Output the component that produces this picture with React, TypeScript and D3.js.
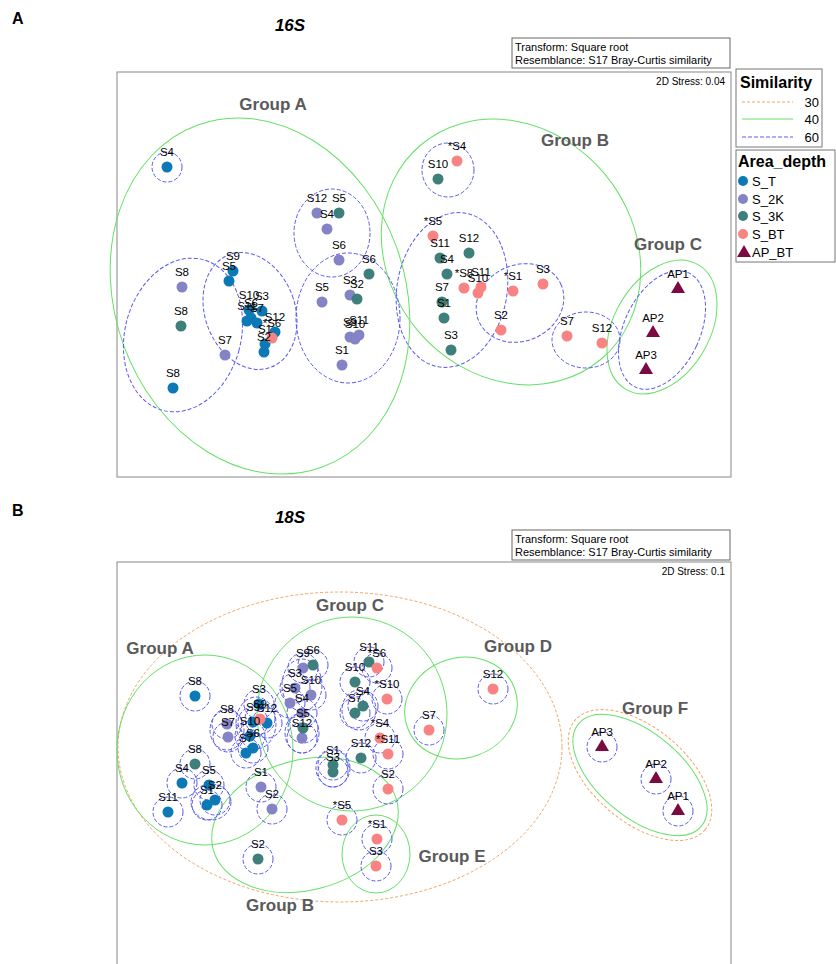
import React from "react";
import * as d3 from "d3";

// ---------- data ----------
type P = [string, number, number]; // label, MDS1, MDS2
type E = [number, number, number, number, number]; // cx, cy, rx, ry, angle(deg)

const areaDepth = ["S_T", "S_2K", "S_3K", "S_BT", "AP_BT"];
const areaColors = ["#0b79b5", "#8383c6", "#3f7f7b", "#f98282", "#7b0a42"];
const simLevels = ["30", "40", "60"];

// Panel A (16S)
const a_ST: P[] = [
  ["S4", -2.57, 1.08], ["S9", -1.91, 0.04], ["S5", -1.95, -0.06], ["S8", -2.51, -1.13],
  ["S10", -1.75, -0.35], ["S3", -1.62, -0.36], ["S6", -1.73, -0.43], ["S11", -1.77, -0.46],
  ["S7", -1.67, -0.48], ["S12", -1.49, -0.57], ["S1", -1.59, -0.69], ["S2", -1.6, -0.77],
];
const a_2K: P[] = [
  ["S8", -2.42, -0.12], ["S7", -1.99, -0.8], ["S12", -1.07, 0.62], ["S4", -0.97, 0.46],
  ["S6", -0.85, 0.15], ["S5", -1.02, -0.27], ["S3", -0.74, -0.2], ["S9", -0.74, -0.62],
  ["S10", -0.69, -0.64], ["S11", -0.65, -0.6], ["S1", -0.82, -0.9],
];
const a_3K: P[] = [
  ["S8", -2.43, -0.51], ["S5", -0.85, 0.62], ["S6", -0.55, 0.01], ["S2", -0.67, -0.24],
  ["S10", 0.14, 0.96], ["S12", 0.45, 0.22], ["S11", 0.16, 0.17], ["S4", 0.23, 0.01],
  ["S7", 0.18, -0.27], ["S1", 0.2, -0.43], ["S3", 0.27, -0.75],
];
const a_BT: P[] = [
  ["*S6", -1.52, -0.63], ["*S4", 0.33, 1.14], ["*S5", 0.09, 0.39], ["*S8", 0.4, -0.13],
  ["S11", 0.57, -0.12], ["S10", 0.54, -0.18], ["*S1", 0.89, -0.16], ["S3", 1.19, -0.09],
  ["S2", 0.77, -0.55], ["S7", 1.43, -0.61], ["S12", 1.78, -0.68],
];
const a_AP: P[] = [["AP1", 2.54, -0.14], ["AP2", 2.29, -0.58], ["AP3", 2.22, -0.95]];

const a_sim60: E[] = [
  [-2.57, 1.08, 0.15, 0.15, 0], [-2.41, -0.6, 0.58, 0.78, 15], [-1.74, -0.36, 0.45, 0.6, -20],
  [-0.92, 0.42, 0.38, 0.44, 0], [-0.76, -0.43, 0.52, 0.65, 0], [0.24, 1.05, 0.26, 0.27, 0],
  [0.28, -0.15, 0.55, 0.78, 10], [0.96, -0.28, 0.45, 0.38, -25], [1.62, -0.65, 0.34, 0.28, 0],
  [2.38, -0.55, 0.38, 0.63, 25],
];
const a_sim40: E[] = [
  [-1.64, -0.21, 1.45, 1.82, -20], [0.87, 0.23, 1.22, 1.4, -40], [2.38, -0.52, 0.48, 0.72, 30],
];
const a_sim30: E[] = [];
const a_groupNames = ["Group A", "Group B", "Group C"];
const a_groupPos: [number, number][] = [[-1.51, 1.71], [1.51, 1.35], [2.44, 0.31]];

// Panel B (18S)
const b_ST: P[] = [
  ["S8", -2.29, 0.69], ["S3", -1.65, 0.61], ["S9", -1.71, 0.43], ["S12", -1.57, 0.42],
  ["S10", -1.74, 0.29], ["S6", -1.71, 0.17], ["S7", -1.78, 0.12], ["S4", -2.42, -0.18],
  ["S5", -2.15, -0.2], ["S2", -2.09, -0.35], ["S1", -2.17, -0.4], ["S11", -2.56, -0.47],
];
const b_2K: P[] = [
  ["S8", -1.97, 0.41], ["S7", -1.96, 0.28], ["S1", -1.63, -0.22], ["S2", -1.52, -0.44],
  ["S9", -1.21, 0.97], ["S3", -1.29, 0.77], ["S10", -1.13, 0.7], ["S5", -1.34, 0.62],
  ["S4", -1.22, 0.52], ["S12", -1.22, 0.27],
];
const b_3K: P[] = [
  ["S6", -1.11, 1.0], ["S5", -1.21, 0.37], ["S11", -0.55, 1.03], ["S10", -0.69, 0.83],
  ["S4", -0.61, 0.59], ["S7", -0.69, 0.52], ["S12", -0.63, 0.07], ["S1", -0.91, 0.0],
  ["S3", -0.91, -0.07], ["S8", -2.29, 0.01], ["S2", -1.66, -0.94],
];
const b_BT: P[] = [
  ["S9", -1.64, 0.46], ["*S6", -0.47, 0.97], ["*S10", -0.37, 0.66], ["*S4", -0.44, 0.27],
  ["*S11", -0.36, 0.11], ["S2", -0.36, -0.24], ["*S5", -0.82, -0.55], ["*S1", -0.47, -0.74],
  ["S3", -0.48, -1.01], ["S12", 0.69, 0.76], ["S7", 0.05, 0.35],
];
const b_AP: P[] = [["AP3", 1.78, 0.18], ["AP2", 2.32, -0.14], ["AP1", 2.54, -0.46]];

const b_sim60extra: E[] = [
  [-2.13, -0.37, 0.2, 0.18, 0], [-1.97, 0.35, 0.17, 0.2, 0], [-0.91, -0.03, 0.17, 0.19, 0],
  [-1.22, 0.32, 0.17, 0.2, 0], [-1.68, 0.42, 0.2, 0.26, 0], [-1.22, 0.8, 0.2, 0.26, 0],
  [-0.65, 0.55, 0.17, 0.2, 0],
];
const b_sim40: E[] = [
  [-2.19, 0.15, 0.88, 0.95, 0], [-0.72, 0.51, 0.95, 0.97, 0], [-1.19, -0.6, 0.95, 0.65, -15],
  [0.37, 0.57, 0.57, 0.5, -20], [-0.48, -0.89, 0.34, 0.39, 0], [2.16, -0.1, 0.8, 0.42, 40],
];
const b_sim30: E[] = [[-0.84, 0.18, 2.22, 1.55, 0], [2.16, -0.1, 0.85, 0.47, 40]];
const b_groupNames = ["Group A", "Group C", "Group D", "Group F", "Group E", "Group B"];
const b_groupPos: [number, number][] = [
  [-2.64, 1.17], [-0.74, 1.6], [0.94, 1.19], [2.31, 0.57], [0.28, -0.91], [-1.44, -1.4],
];

// ---------- styles ----------
const FONT = "Arial, 'Liberation Sans', sans-serif";
const C30 = "#f2a463";
const C40 = "#66e066";
const C60 = "#5a5af0";

type PanelProps = {
  letter: string; title: string; top: number; frameTop: number; frameBottom: number;
  yDomain: [number, number]; yRange: [number, number]; stress: string;
  series: P[][]; sim60: E[]; sim40: E[]; sim30: E[]; circlesAll: boolean;
  groupNames: string[]; groupPos: [number, number][];
};

function Panel(p: PanelProps) {
  const x = d3.scaleLinear().domain([-3.07, 3.07]).range([117, 731]);
  const y = d3.scaleLinear().domain(p.yDomain).range(p.yRange);
  const kx = x(1) - x(0);
  const ky = y(0) - y(1);
  const ell = (e: E, stroke: string, dash: string | undefined, key: string) => (
    <ellipse key={key} cx={x(e[0])} cy={y(e[1])} rx={e[2] * kx} ry={e[3] * ky}
      transform={`rotate(${e[4]} ${x(e[0])} ${y(e[1])})`}
      fill="none" stroke={stroke} strokeWidth={1} strokeDasharray={dash} />
  );
  const tri = d3.symbol(d3.symbolTriangle, 85)() as string;
  const perPoint: E[] = p.circlesAll
    ? p.series.flat().map((d) => [d[1], d[2], 0.15, 0.15, 0] as E)
    : [];
  return (
    <g>
      <text x={12} y={p.top + 24} fontFamily={FONT} fontWeight="bold" fontSize={16}>{p.letter}</text>
      <text x={290} y={p.top + 31} fontFamily={FONT} fontWeight="bold" fontStyle="italic"
        fontSize={17} textAnchor="middle">{p.title}</text>
      <rect x={512} y={p.top + 38} width={218} height={30} fill="white" stroke="#666" />
      <text x={515} y={p.top + 51} fontFamily={FONT} fontSize={11}>Transform: Square root</text>
      <text x={515} y={p.top + 64} fontFamily={FONT} fontSize={11}>Resemblance: S17 Bray-Curtis similarity</text>
      <rect x={117} y={p.frameTop} width={614} height={p.frameBottom - p.frameTop} fill="white" stroke="#888" />
      <text x={725} y={p.frameTop + 13} fontFamily={FONT} fontSize={10} textAnchor="end">{`2D Stress: ${p.stress}`}</text>
      {p.sim30.map((e, i) => ell(e, C30, "3 2", "o" + i))}
      {p.sim40.map((e, i) => ell(e, C40, undefined, "g" + i))}
      {perPoint.map((e, i) => ell(e, C60, "4 2", "pp" + i))}
      {p.sim60.map((e, i) => ell(e, C60, "4 2", "b" + i))}
      {p.groupNames.map((g, i) => (
        <text key={g} x={x(p.groupPos[i][0])} y={y(p.groupPos[i][1])} fontFamily={FONT}
          fontWeight="bold" fontSize={17} fill="#5a5a5a" textAnchor="middle"
          dominantBaseline="central">{g}</text>
      ))}
      {p.series.map((s, gi) =>
        s.map((d, i) =>
          gi === 4 ? (
            <path key={`m${gi}-${i}`} d={tri} transform={`translate(${x(d[1])},${y(d[2])})`}
              fill={areaColors[gi]} />
          ) : (
            <circle key={`m${gi}-${i}`} cx={x(d[1])} cy={y(d[2])} r={5.5} fill={areaColors[gi]} />
          )
        )
      )}
      {p.series.map((s, gi) =>
        s.map((d, i) => (
          <text key={`l${gi}-${i}`} x={x(d[1])} y={y(d[2]) - 15} fontFamily={FONT} fontSize={11.5}
            textAnchor="middle" dominantBaseline="central">{d[0]}</text>
        ))
      )}
    </g>
  );
}

function Legend() {
  const simColors = [C30, C40, C60];
  const simDash = ["3 2", undefined, "4 2"];
  const simY = [102, 119, 137];
  const adY = [181, 199, 216, 234, 252];
  const tri = d3.symbol(d3.symbolTriangle, 85)() as string;
  return (
    <g fontFamily={FONT}>
      <rect x={736} y={69} width={86} height={78} fill="white" stroke="#777" />
      <text x={740} y={88} fontWeight="bold" fontSize={16}>Similarity</text>
      {simLevels.map((s, i) => (
        <g key={s}>
          <line x1={742} x2={793} y1={simY[i]} y2={simY[i]} stroke={simColors[i]} strokeDasharray={simDash[i]} />
          <text x={819} y={simY[i]} fontSize={13} textAnchor="end" dominantBaseline="central">{s}</text>
        </g>
      ))}
      <rect x={736} y={150} width={99} height={112} fill="white" stroke="#777" />
      <text x={738} y={167} fontWeight="bold" fontSize={16}>Area_depth</text>
      {areaDepth.map((a, i) => (
        <g key={a}>
          {i === 4 ? (
            <path d={tri} transform={`translate(${744},${adY[i] + 1})`} fill={areaColors[i]} />
          ) : (
            <circle cx={743} cy={adY[i]} r={5} fill={areaColors[i]} />
          )}
          <text x={752} y={adY[i]} fontSize={13} dominantBaseline="central">{a}</text>
        </g>
      ))}
    </g>
  );
}

export default function App() {
  return (
    <div>
      <style>{`body{margin:0}`}</style>
      <svg width={836} height={964} style={{ display: "block" }}>
        <rect width={836} height={964} fill="white" />
        <Panel letter="A" title="16S" top={0} frameTop={72} frameBottom={477}
          yDomain={[-2.02, 2.03]} yRange={[477, 72]} stress="0.04"
          series={[a_ST, a_2K, a_3K, a_BT, a_AP]} sim60={a_sim60} sim40={a_sim40} sim30={a_sim30}
          circlesAll={false} groupNames={a_groupNames} groupPos={a_groupPos} />
        <Panel letter="B" title="18S" top={492} frameTop={562} frameBottom={990}
          yDomain={[-1.99, 2.03]} yRange={[964, 562]} stress="0.1"
          series={[b_ST, b_2K, b_3K, b_BT, b_AP]} sim60={b_sim60extra} sim40={b_sim40} sim30={b_sim30}
          circlesAll={true} groupNames={b_groupNames} groupPos={b_groupPos} />
        <Legend />
      </svg>
    </div>
  );
}
